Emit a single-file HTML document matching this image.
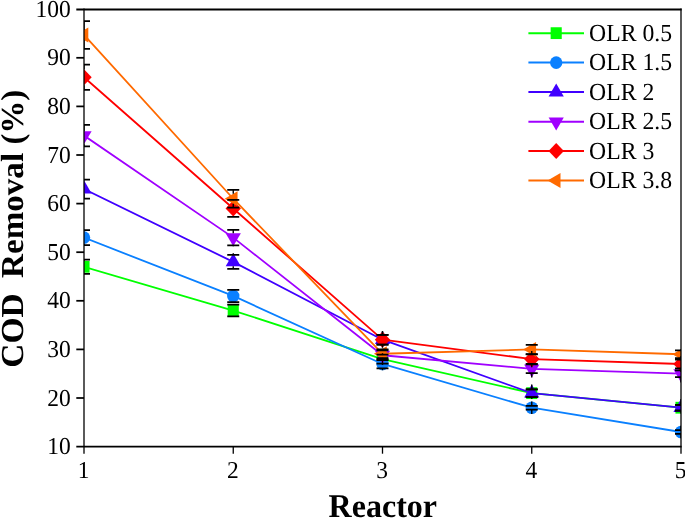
<!DOCTYPE html>
<html><head><meta charset="utf-8"><title>COD Removal vs Reactor</title>
<style>
html,body{margin:0;padding:0;background:#fff;}
body{width:685px;height:519px;overflow:hidden;}
svg{display:block;}
text{font-family:"Liberation Serif","Times New Roman",serif;fill:#000;text-rendering:geometricPrecision;}
.tk{font-size:23.5px;}
.lg{font-size:23.7px;}
.ti{font-size:32px;font-weight:bold;}
</style></head><body>
<svg width="685" height="519" viewBox="0 0 685 519">
<rect width="685" height="519" fill="#fff"/>
<defs><clipPath id="pa"><rect x="84" y="9.2" width="597" height="437.4"/></clipPath></defs>

<g clip-path="url(#pa)">
<polyline points="84.00,266.78 233.25,310.52 382.50,359.12 531.75,393.14 681.00,407.72" fill="none" stroke="#00FF00" stroke-width="1.8" stroke-linejoin="round"/>
<rect x="78.45" y="260.88" width="11.1" height="11.8" fill="#00FF00"/>
<rect x="227.70" y="304.62" width="11.1" height="11.8" fill="#00FF00"/>
<rect x="376.95" y="353.22" width="11.1" height="11.8" fill="#00FF00"/>
<rect x="526.20" y="387.24" width="11.1" height="11.8" fill="#00FF00"/>
<rect x="675.45" y="401.82" width="11.1" height="11.8" fill="#00FF00"/>
<polyline points="84.00,237.62 233.25,295.94 382.50,363.98 531.75,407.72 681.00,432.02" fill="none" stroke="#0A80FF" stroke-width="1.8" stroke-linejoin="round"/>
<ellipse cx="84.00" cy="237.62" rx="6.2" ry="6.3" fill="#0A80FF"/>
<ellipse cx="233.25" cy="295.94" rx="6.2" ry="6.3" fill="#0A80FF"/>
<ellipse cx="382.50" cy="363.98" rx="6.2" ry="6.3" fill="#0A80FF"/>
<ellipse cx="531.75" cy="407.72" rx="6.2" ry="6.3" fill="#0A80FF"/>
<ellipse cx="681.00" cy="432.02" rx="6.2" ry="6.3" fill="#0A80FF"/>
<polyline points="84.00,189.02 233.25,261.92 382.50,339.68 531.75,393.14 681.00,407.72" fill="none" stroke="#4000FF" stroke-width="1.8" stroke-linejoin="round"/>
<polygon points="84.00,180.32 91.60,193.42 76.40,193.42" fill="#4000FF"/>
<polygon points="233.25,253.22 240.85,266.32 225.65,266.32" fill="#4000FF"/>
<polygon points="382.50,330.98 390.10,344.08 374.90,344.08" fill="#4000FF"/>
<polygon points="531.75,384.44 539.35,397.54 524.15,397.54" fill="#4000FF"/>
<polygon points="681.00,399.02 688.60,412.12 673.40,412.12" fill="#4000FF"/>
<polyline points="84.00,135.56 233.25,237.62 382.50,355.23 531.75,368.84 681.00,373.70" fill="none" stroke="#A000FF" stroke-width="1.8" stroke-linejoin="round"/>
<polygon points="84.00,144.26 91.60,131.16 76.40,131.16" fill="#A000FF"/>
<polygon points="233.25,246.32 240.85,233.22 225.65,233.22" fill="#A000FF"/>
<polygon points="382.50,363.93 390.10,350.83 374.90,350.83" fill="#A000FF"/>
<polygon points="531.75,377.54 539.35,364.44 524.15,364.44" fill="#A000FF"/>
<polygon points="681.00,382.40 688.60,369.30 673.40,369.30" fill="#A000FF"/>
<polyline points="84.00,77.24 233.25,208.46 382.50,339.68 531.75,359.12 681.00,363.98" fill="none" stroke="#FF0000" stroke-width="1.8" stroke-linejoin="round"/>
<polygon points="84.00,69.14 91.70,77.24 84.00,85.34 76.30,77.24" fill="#FF0000"/>
<polygon points="233.25,200.36 240.95,208.46 233.25,216.56 225.55,208.46" fill="#FF0000"/>
<polygon points="382.50,331.58 390.20,339.68 382.50,347.78 374.80,339.68" fill="#FF0000"/>
<polygon points="531.75,351.02 539.45,359.12 531.75,367.22 524.05,359.12" fill="#FF0000"/>
<polygon points="681.00,355.88 688.70,363.98 681.00,372.08 673.30,363.98" fill="#FF0000"/>
<polyline points="84.00,34.96 233.25,198.74 382.50,353.77 531.75,349.40 681.00,354.26" fill="none" stroke="#FF6A00" stroke-width="1.8" stroke-linejoin="round"/>
<polygon points="75.40,34.96 88.30,27.46 88.30,42.46" fill="#FF6A00"/>
<polygon points="224.65,198.74 237.55,191.24 237.55,206.24" fill="#FF6A00"/>
<polygon points="373.90,353.77 386.80,346.27 386.80,361.27" fill="#FF6A00"/>
<polygon points="523.15,349.40 536.05,341.90 536.05,356.90" fill="#FF6A00"/>
<polygon points="672.40,354.26 685.30,346.76 685.30,361.76" fill="#FF6A00"/>
<g stroke="#000" stroke-width="1.75" fill="none">
<path d="M78.00,259.73H90.00M78.00,273.83H90.00"/>
<path stroke-width="1.4" stroke="#000" d="M84.00,259.73V260.88M84.00,273.83V272.68"/>
<path d="M227.25,304.69H239.25M227.25,316.35H239.25"/>
<path stroke-width="1.4" stroke="#000" d="M233.25,304.69V304.62M233.25,316.35V316.42"/>
<path d="M376.50,354.50H388.50M376.50,363.74H388.50"/>
<path stroke-width="1.4" stroke="#000" d="M382.50,354.50V353.22M382.50,363.74V365.02"/>
<path d="M525.75,389.25H537.75M525.75,397.03H537.75"/>
<path stroke-width="1.4" stroke="#000" d="M531.75,389.25V387.24M531.75,397.03V399.04"/>
<path d="M675.00,404.80H687.00M675.00,410.64H687.00"/>
<path stroke-width="1.4" stroke="#000" d="M681.00,404.80V401.82M681.00,410.64V413.62"/>
<path d="M78.00,230.09H90.00M78.00,245.15H90.00"/>
<path stroke-width="1.4" stroke="#000" d="M84.00,230.09V231.32M84.00,245.15V243.92"/>
<path d="M227.25,289.87H239.25M227.25,302.01H239.25"/>
<path stroke-width="1.4" stroke="#000" d="M233.25,289.87V289.64M233.25,302.01V302.24"/>
<path d="M376.50,359.61H388.50M376.50,368.35H388.50"/>
<path stroke-width="1.4" stroke="#000" d="M382.50,359.61V357.68M382.50,368.35V370.28"/>
<path d="M525.75,405.78H537.75M525.75,409.66H537.75"/>
<path stroke-width="1.4" stroke="#000" d="M531.75,405.78V401.42M531.75,409.66V414.02"/>
<path d="M675.00,430.08H687.00M675.00,433.96H687.00"/>
<path stroke-width="1.4" stroke="#000" d="M681.00,430.08V425.72M681.00,433.96V438.32"/>
<path d="M78.00,179.54H90.00M78.00,198.50H90.00"/>
<path stroke-width="1.4" stroke="#000" d="M84.00,179.54V180.32M84.00,198.50V193.42"/>
<path d="M227.25,254.87H239.25M227.25,268.97H239.25"/>
<path stroke-width="1.4" stroke="#000" d="M233.25,254.87V253.22M233.25,268.97V266.32"/>
<path d="M376.50,334.82H388.50M376.50,344.54H388.50"/>
<path stroke-width="1.4" stroke="#000" d="M382.50,334.82V330.98M382.50,344.54V344.08"/>
<path d="M525.75,389.25H537.75M525.75,397.03H537.75"/>
<path stroke-width="1.4" stroke="#000" d="M531.75,389.25V384.44M531.75,397.03V397.54"/>
<path d="M675.00,404.80H687.00M675.00,410.64H687.00"/>
<path stroke-width="1.4" stroke="#000" d="M681.00,404.80V399.02M681.00,410.64V412.12"/>
<path d="M78.00,124.87H90.00M78.00,146.25H90.00"/>
<path stroke-width="1.4" stroke="#000" d="M84.00,124.87V131.16M84.00,146.25V144.26"/>
<path d="M227.25,229.84H239.25M227.25,245.40H239.25"/>
<path stroke-width="1.4" stroke="#000" d="M233.25,229.84V233.22M233.25,245.40V246.32"/>
<path d="M376.50,350.37H388.50M376.50,360.09H388.50"/>
<path stroke-width="1.4" stroke="#000" d="M382.50,350.37V350.83M382.50,360.09V363.93"/>
<path d="M525.75,364.47H537.75M525.75,373.21H537.75"/>
<path stroke-width="1.4" stroke="#000" d="M531.75,364.47V364.44M531.75,373.21V377.54"/>
<path d="M675.00,370.30H687.00M675.00,377.10H687.00"/>
<path stroke-width="1.4" stroke="#000" d="M681.00,370.30V369.30M681.00,377.10V382.40"/>
<path d="M78.00,64.60H90.00M78.00,89.88H90.00"/>
<path stroke-width="1.4" stroke="#000" d="M84.00,64.60V69.14M84.00,89.88V85.34"/>
<path d="M227.25,199.96H239.25M227.25,216.97H239.25"/>
<path stroke-width="1.4" stroke="#000" d="M233.25,199.96V200.36M233.25,216.97V216.56"/>
<path d="M376.50,334.82H388.50M376.50,344.54H388.50"/>
<path stroke-width="1.4" stroke="#000" d="M382.50,334.82V331.58M382.50,344.54V347.78"/>
<path d="M525.75,354.26H537.75M525.75,363.98H537.75"/>
<path stroke-width="1.4" stroke="#000" d="M531.75,354.26V351.02M531.75,363.98V367.22"/>
<path d="M675.00,359.61H687.00M675.00,368.35H687.00"/>
<path stroke-width="1.4" stroke="#000" d="M681.00,359.61V355.88M681.00,368.35V372.08"/>
<path d="M78.00,21.11H90.00M78.00,48.81H90.00"/>
<path stroke-width="1.4" stroke="#000" d="M84.00,21.11V29.96M84.00,48.81V39.96"/>
<path d="M227.25,189.75H239.25M227.25,207.73H239.25"/>
<path stroke-width="1.4" stroke="#000" d="M233.25,189.75V193.74M233.25,207.73V203.74"/>
<path d="M376.50,349.40H388.50M376.50,358.15H388.50"/>
<path stroke-width="1.4" stroke="#000" d="M382.50,349.40V348.77M382.50,358.15V358.77"/>
<path d="M525.75,344.78H537.75M525.75,354.02H537.75"/>
<path stroke-width="1.4" stroke="#000" d="M531.75,344.78V344.40M531.75,354.02V354.40"/>
<path d="M675.00,350.37H687.00M675.00,358.15H687.00"/>
<path stroke-width="1.4" stroke="#000" d="M681.00,350.37V349.26M681.00,358.15V359.26"/>
</g></g>
<g stroke="#000" stroke-width="1.75" fill="none">
<path d="M76.3,9.5H681.65" stroke-width="1.9"/>
<path d="M76.3,446.6H681.6"/>
<path d="M76.3,398.00H84.0"/>
<path d="M76.3,349.40H84.0"/>
<path d="M76.3,300.80H84.0"/>
<path d="M76.3,252.20H84.0"/>
<path d="M76.3,203.60H84.0"/>
<path d="M76.3,155.00H84.0"/>
<path d="M76.3,106.40H84.0"/>
<path d="M76.3,57.80H84.0"/>
</g>
<g stroke="#000" stroke-width="1.3" fill="none">
<path d="M84.0,8.6V453.7"/>
<path d="M681.0,8.6V453.7"/>
<path d="M233.25,446.6V453.7"/>
<path d="M382.50,446.6V453.7"/>
<path d="M531.75,446.6V453.7"/>
</g>
<text class="tk" transform="translate(70.8,454.20) scale(1,1.035)" text-anchor="end">10</text>
<text class="tk" transform="translate(70.8,405.60) scale(1,1.035)" text-anchor="end">20</text>
<text class="tk" transform="translate(70.8,357.00) scale(1,1.035)" text-anchor="end">30</text>
<text class="tk" transform="translate(70.8,308.40) scale(1,1.035)" text-anchor="end">40</text>
<text class="tk" transform="translate(70.8,259.80) scale(1,1.035)" text-anchor="end">50</text>
<text class="tk" transform="translate(70.8,211.20) scale(1,1.035)" text-anchor="end">60</text>
<text class="tk" transform="translate(70.8,162.60) scale(1,1.035)" text-anchor="end">70</text>
<text class="tk" transform="translate(70.8,114.00) scale(1,1.035)" text-anchor="end">80</text>
<text class="tk" transform="translate(70.8,65.40) scale(1,1.035)" text-anchor="end">90</text>
<text class="tk" transform="translate(70.8,16.80) scale(1,1.035)" text-anchor="end">100</text>
<text class="tk" transform="translate(83.60,478.3) scale(1,1.035)" text-anchor="middle">1</text>
<text class="tk" transform="translate(232.85,478.3) scale(1,1.035)" text-anchor="middle">2</text>
<text class="tk" transform="translate(382.10,478.3) scale(1,1.035)" text-anchor="middle">3</text>
<text class="tk" transform="translate(531.35,478.3) scale(1,1.035)" text-anchor="middle">4</text>
<text class="tk" transform="translate(680.60,478.3) scale(1,1.035)" text-anchor="middle">5</text>
<text class="ti" transform="translate(382.8,516.7) scale(1,1.035)" text-anchor="middle">Reactor</text>
<text class="ti" transform="translate(23.4,367.7) rotate(-90) scale(1.045,1)">COD</text>
<text class="ti" transform="translate(23.4,277.9) rotate(-90) scale(1.034,1)">Removal</text>
<text class="ti" transform="translate(23.4,144.5) rotate(-90) scale(1.023,1)">(%)</text>
<path d="M528.4,33.15H584" stroke="#00FF00" stroke-width="2"/>
<rect x="550.65" y="27.25" width="11.1" height="11.8" fill="#00FF00"/>
<text class="lg" transform="translate(589.1,40.65) scale(1,1.035)">OLR 0.5</text>
<path d="M528.4,62.6H584" stroke="#0A80FF" stroke-width="2"/>
<ellipse cx="556.20" cy="62.60" rx="6.2" ry="6.3" fill="#0A80FF"/>
<text class="lg" transform="translate(589.1,70.10) scale(1,1.035)">OLR 1.5</text>
<path d="M528.4,92.1H584" stroke="#4000FF" stroke-width="2"/>
<polygon points="556.20,83.40 563.80,96.50 548.60,96.50" fill="#4000FF"/>
<text class="lg" transform="translate(589.1,99.60) scale(1,1.035)">OLR 2</text>
<path d="M528.4,121.8H584" stroke="#A000FF" stroke-width="2"/>
<polygon points="556.20,130.50 563.80,117.40 548.60,117.40" fill="#A000FF"/>
<text class="lg" transform="translate(589.1,129.30) scale(1,1.035)">OLR 2.5</text>
<path d="M528.4,151.0H584" stroke="#FF0000" stroke-width="2"/>
<polygon points="556.20,142.90 563.90,151.00 556.20,159.10 548.50,151.00" fill="#FF0000"/>
<text class="lg" transform="translate(589.1,158.50) scale(1,1.035)">OLR 3</text>
<path d="M528.4,180.5H584" stroke="#FF6A00" stroke-width="2"/>
<polygon points="547.60,180.50 560.50,173.00 560.50,188.00" fill="#FF6A00"/>
<text class="lg" transform="translate(589.1,188.00) scale(1,1.035)">OLR 3.8</text>
</svg></body></html>
